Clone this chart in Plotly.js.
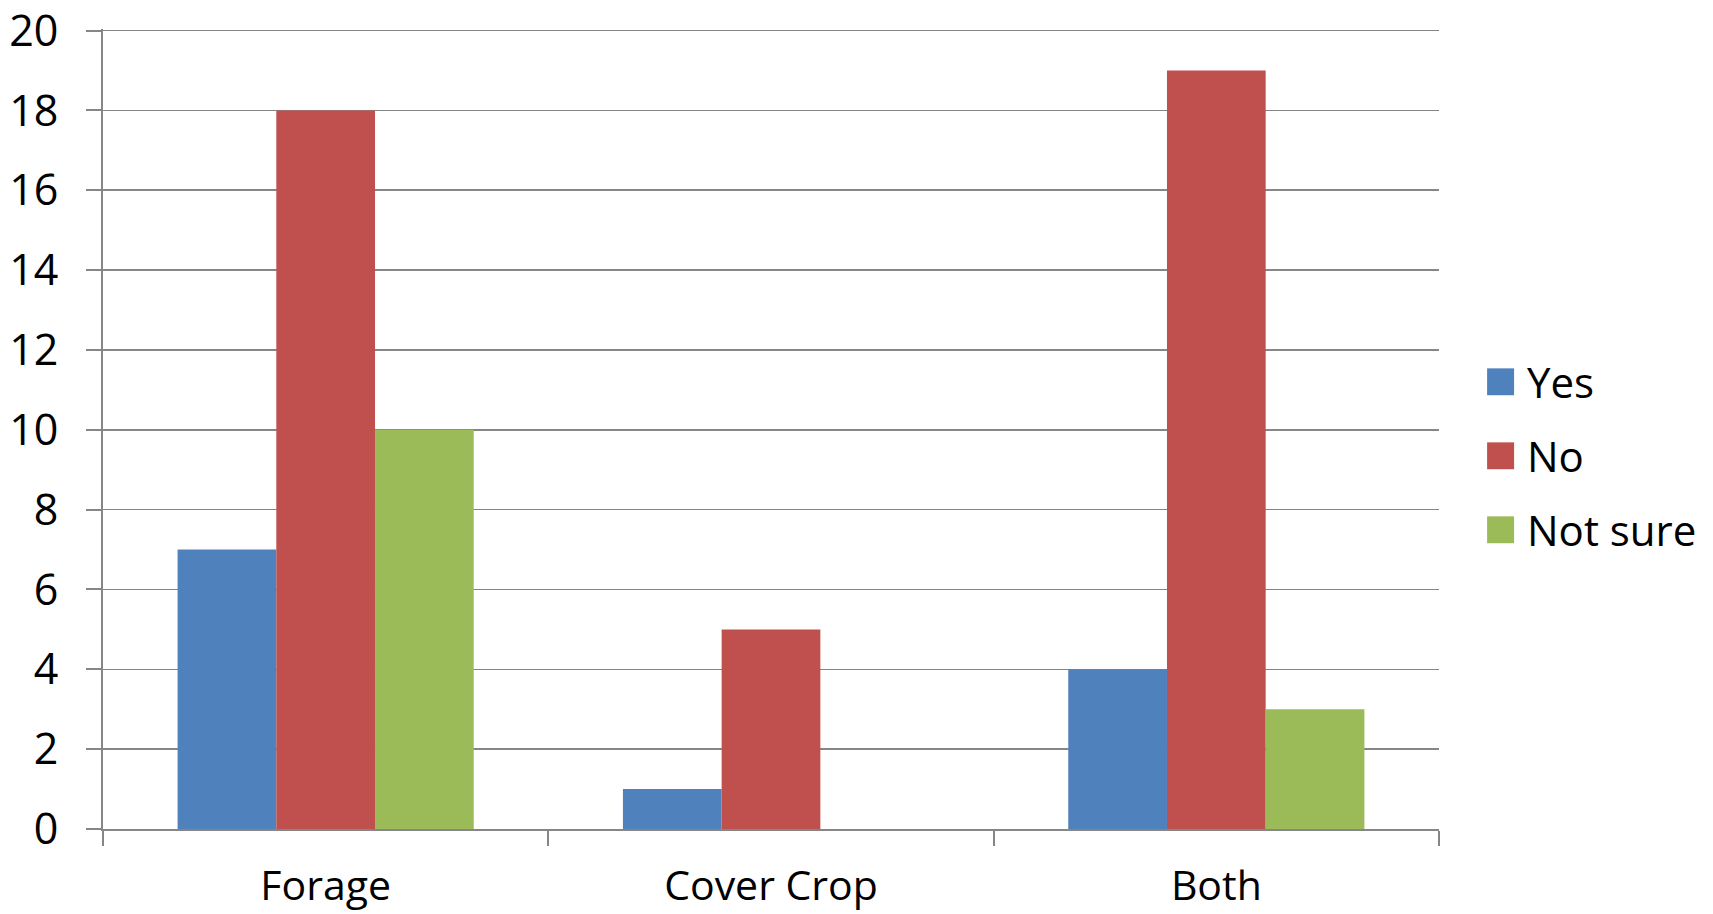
<!DOCTYPE html>
<html>
<head>
<meta charset="utf-8">
<script src="https://cdn.plot.ly/plotly-3.0.1.min.js"></script>
<style>html,body{margin:0;padding:0;background:#fff;}#chart{width:1713px;height:914px;}</style>
</head>
<body>
<div id="chart"></div>
<script>
var categories = ["Forage", "Cover Crop", "Both"];
var seriesNames = ["Yes", "No", "Not sure"];
var yesValues = [7, 1, 4];
var noValues = [18, 5, 19];
var notSureValues = [10, 0, 3];
var yTickValues = [0, 2, 4, 6, 8, 10, 12, 14, 16, 18, 20];
var colors = ["#4F81BD", "#C0504D", "#9BBB59"];

var allValues = [yesValues, noValues, notSureValues];
var traces = allValues.map(function (vals, i) {
  return {
    type: "bar",
    name: seriesNames[i],
    x: categories,
    y: vals,
    marker: { color: colors[i], line: { width: 0 } },
    showlegend: false,
    hoverinfo: "x+y+name"
  };
});

var FONT = { family: "Open Sans, sans-serif", size: 43, color: "#000" };
var LEGFONT = { family: "Open Sans, sans-serif", size: 42, color: "#000" };
var XFONT = { family: "Open Sans, sans-serif", size: 41, color: "#000" };
var shapes = [];
var annotations = [];
seriesNames.forEach(function (name, i) {
  var yc = 0.559 - i * 0.0925;
  shapes.push({
    type: "rect", xref: "paper", yref: "paper",
    x0: 1.036, x1: 1.0562, y0: yc - 0.0168, y1: yc + 0.0168,
    fillcolor: colors[i], line: { width: 0 }
  });
  annotations.push({
    xref: "paper", yref: "paper", x: 1.064, y: yc,
    xanchor: "left", yanchor: "middle", showarrow: false,
    text: name, font: LEGFONT
  });
});

var layout = {
  width: 1713, height: 914,
  margin: { l: 103, r: 274, t: 29, b: 85, pad: 0 },
  paper_bgcolor: "#fff", plot_bgcolor: "#fff",
  font: FONT,
  barmode: "group",
  bargap: 0.335,
  bargroupgap: 0,
  showlegend: false,
  xaxis: {
    type: "category",
    tickson: "boundaries",
    ticks: "outside", ticklen: 15, tickwidth: 2, tickcolor: "#868686",
    showline: true, linecolor: "#868686", linewidth: 2,
    showgrid: false, zeroline: false,
    tickfont: XFONT,
    ticklabelstandoff: 20
  },
  yaxis: {
    range: [0, 20.04],
    tickvals: yTickValues,
    ticktext: yTickValues.map(String),
    ticks: "outside", ticklen: 15, tickwidth: 2, tickcolor: "#868686",
    showline: true, linecolor: "#868686", linewidth: 2,
    showgrid: true, gridcolor: "#868686", gridwidth: 1.6,
    zeroline: false,
    tickfont: FONT,
    ticklabelstandoff: 19,
    ticklabeloverflow: "allow"
  },
  shapes: shapes,
  annotations: annotations
};

Plotly.newPlot("chart", traces, layout, { displayModeBar: false, staticPlot: true });
</script>
</body>
</html>
